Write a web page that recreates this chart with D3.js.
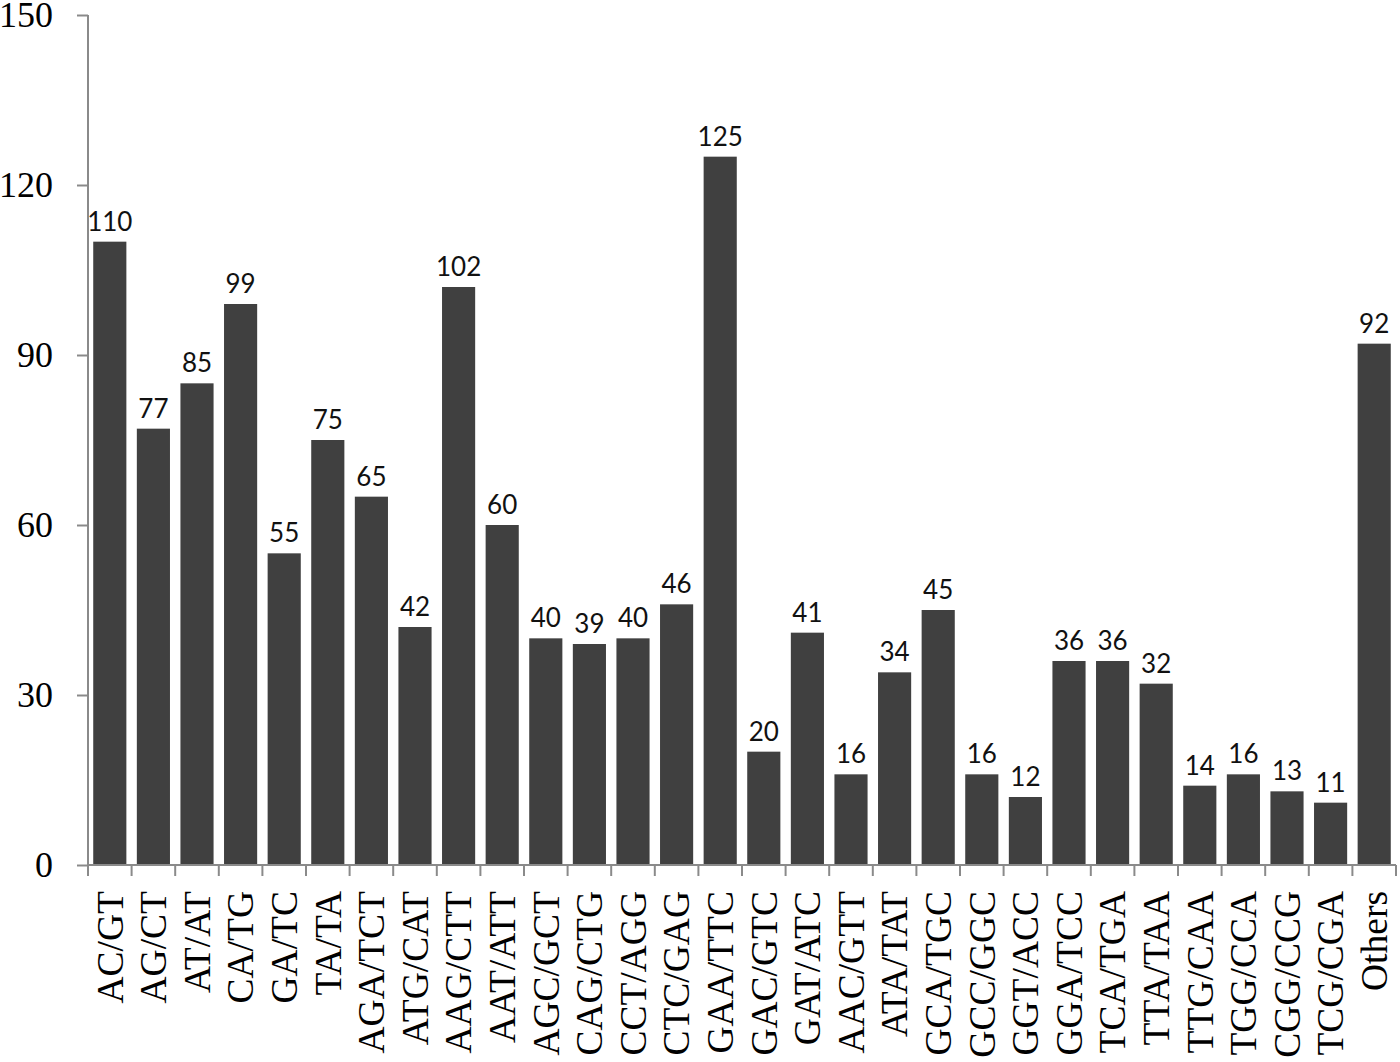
<!DOCTYPE html>
<html><head><meta charset="utf-8">
<script src="https://cdn.jsdelivr.net/npm/d3@7"></script>
<style>html,body{margin:0;padding:0;background:#fff;}</style>
</head><body>
<svg id="chart" width="1400" height="1062"></svg>
<script>
const categories = ["AC/GT","AG/CT","AT/AT","CA/TG","GA/TC","TA/TA","AGA/TCT","ATG/CAT","AAG/CTT","AAT/ATT","AGC/GCT","CAG/CTG","CCT/AGG","CTC/GAG","GAA/TTC","GAC/GTC","GAT/ATC","AAC/GTT","ATA/TAT","GCA/TGC","GCC/GGC","GGT/ACC","GGA/TCC","TCA/TGA","TTA/TAA","TTG/CAA","TGG/CCA","CGG/CCG","TCG/CGA","Others"];
const values = [110,77,85,99,55,75,65,42,102,60,40,39,40,46,125,20,41,16,34,45,16,12,36,36,32,14,16,13,11,92];
const yTicks = [0,30,60,90,120,150];

const svg = d3.select("#chart");
const x0 = 88, x1 = 1396, yTop = 15, yBot = 865;
const x = d3.scaleBand().domain(categories).range([x0, x1]).paddingInner(0.24).paddingOuter(0.12);
const y = d3.scaleLinear().domain([0,150]).range([yBot, yTop]);
const axisColor = "#8a8a8a";

// bars
svg.selectAll("rect.bar").data(categories).enter().append("rect")
  .attr("x", d => x(d)).attr("width", x.bandwidth())
  .attr("y", (d,i) => y(values[i])).attr("height", (d,i) => yBot - y(values[i]))
  .attr("fill", "#404040");

// value labels
svg.selectAll("text.val").data(categories).enter().append("text")
  .attr("x", d => x(d) + x.bandwidth()/2)
  .attr("y", (d,i) => y(values[i]) - 11)
  .attr("text-anchor", "middle")
  .attr("font-family", "Lato, 'Open Sans', sans-serif")
  .attr("font-size", 26)
  .attr("fill", "#111")
  .text((d,i) => values[i]);

// y axis
const yAxis = svg.append("g").attr("transform", `translate(${x0},0)`)
  .call(d3.axisLeft(y).tickValues(yTicks).tickSize(11).tickPadding(24));
yAxis.select(".domain").attr("stroke", axisColor).attr("stroke-width", 2).attr("d", `M0,${yTop}V${yBot}`);
yAxis.selectAll(".tick line").attr("stroke", axisColor).attr("stroke-width", 2);
yAxis.selectAll(".tick text").attr("font-family", "'Liberation Serif', 'Times New Roman', serif")
  .attr("font-size", 36).attr("fill", "#000").attr("dy", "0.32em");

// x axis
const bounds = d3.range(categories.length + 1).map(i => x0 + i * (x1 - x0) / categories.length);
const xg = svg.append("g");
xg.append("line").attr("x1", x0).attr("x2", x1).attr("y1", yBot).attr("y2", yBot)
  .attr("stroke", axisColor).attr("stroke-width", 2);
xg.selectAll("line.t").data(bounds).enter().append("line")
  .attr("x1", d => d).attr("x2", d => d).attr("y1", yBot).attr("y2", yBot + 11)
  .attr("stroke", axisColor).attr("stroke-width", 2);
xg.selectAll("text.cat").data(categories).enter().append("text")
  .attr("transform", d => `translate(${x(d) + x.bandwidth()/2},${yBot + 26}) rotate(-90)`)
  .attr("text-anchor", "end").attr("dy", "0.34em")
  .attr("font-family", "'Liberation Serif', 'Times New Roman', serif")
  .attr("font-size", 37.5).attr("fill", "#000")
  .text(d => d);
</script>
</body></html>
